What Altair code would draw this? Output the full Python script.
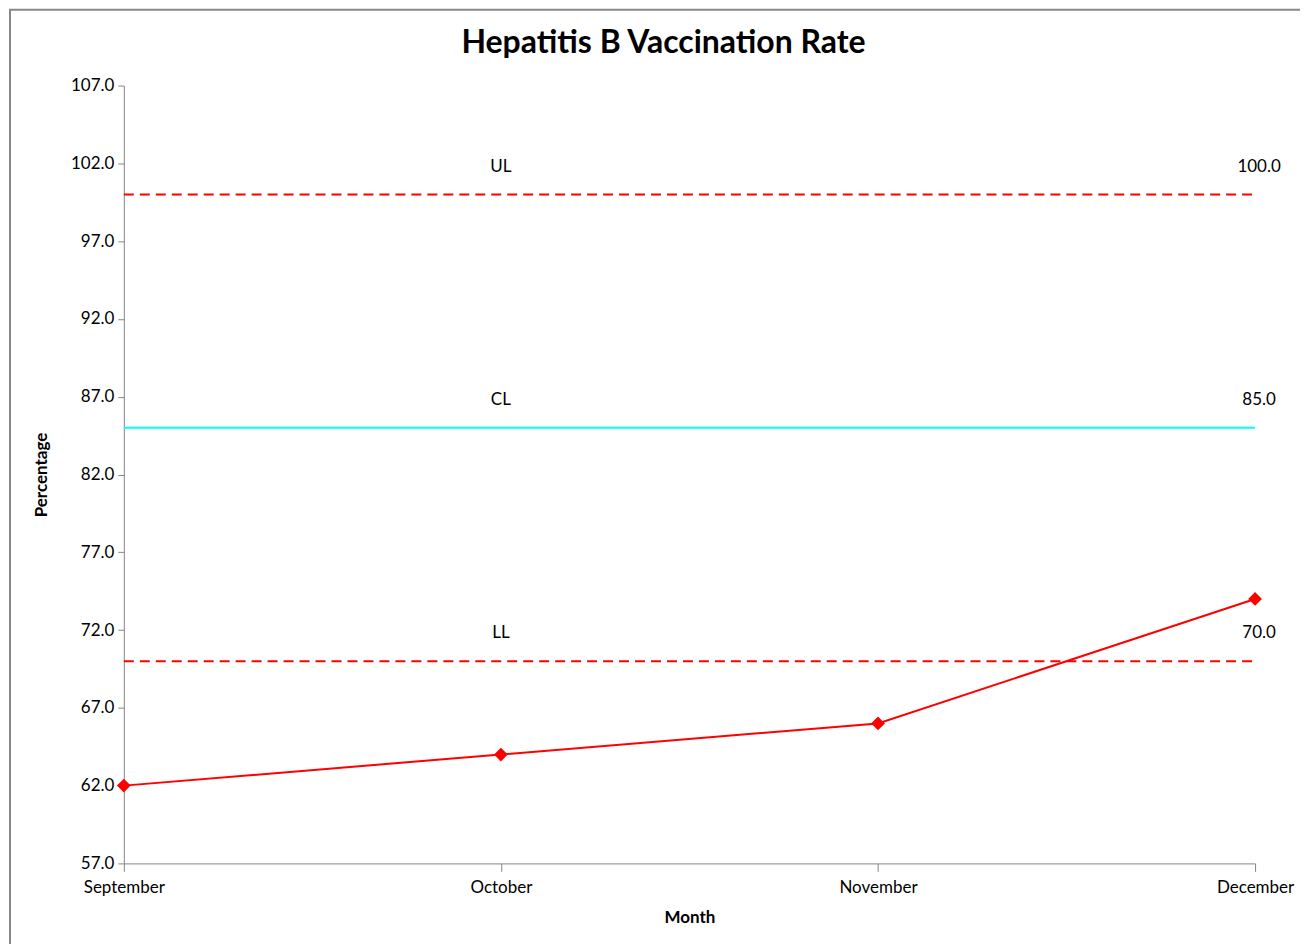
import altair as alt
import pandas as pd

months = ["September", "October", "November", "December"]
rate = [62.0, 64.0, 66.0, 74.0]
limit_names = ["UL", "CL", "LL"]
limit_values = [100.0, 85.0, 70.0]
limit_colors = ["#FF0000", "#00FFFF", "#FF0000"]
limit_dash = [[10, 6], [1, 0], [10, 6]]
y_ticks = [57, 62, 67, 72, 77, 82, 87, 92, 97, 102, 107]

FONT = "Lato"

df = pd.DataFrame({"Month": months, "Rate": rate})

lim_rows = []
for n, v in zip(limit_names, limit_values):
    for m in months:
        lim_rows.append({"Month": m, "Limit": n, "Value": v})
lim_df = pd.DataFrame(lim_rows)
lab_df = pd.DataFrame({"Limit": limit_names, "Value": limit_values,
                       "LabelMonth": ["October"] * 3, "EndMonth": ["December"] * 3})

xs = alt.Scale(domain=months, type="point", padding=0)
ys = alt.Scale(domain=[57, 107], nice=False, zero=False)

x_enc = alt.X("Month:N", scale=xs, sort=months,
              axis=alt.Axis(title="Month", labelAngle=0, labelAlign="center", labelBaseline="top",
                            labelFontSize=17, labelFont=FONT,
                            titleFont=FONT, titleFontSize=17, titleFontWeight="bold",
                            titlePadding=14, domainColor="#868686", tickColor="#868686",
                            tickSize=8, labelPadding=8, labelColor="#000", titleColor="#000",
                            grid=False))
y_enc = alt.Y("Rate:Q", scale=ys,
              axis=alt.Axis(title="Percentage", values=y_ticks, format=".1f", labelFontSize=17,
                            labelFont=FONT, titleFont=FONT, titleFontSize=17,
                            titleFontWeight="bold", titlePadding=20, domainColor="#868686",
                            tickColor="#868686", tickSize=6, labelPadding=4,
                            labelColor="#000", titleColor="#000", grid=False))

frame = alt.Chart(pd.DataFrame({"a": [0]})).mark_rect(
    fill=None, stroke="#888888", strokeWidth=2
).encode(x=alt.value(-114), x2=alt.value(1300), y=alt.value(-76), y2=alt.value(1000))

limits = alt.Chart(lim_df).mark_line(strokeWidth=2).encode(
    x=alt.X("Month:N", scale=xs, sort=months),
    y=alt.Y("Value:Q", scale=ys),
    detail="Limit:N",
    color=alt.Color("Limit:N", scale=alt.Scale(domain=limit_names, range=limit_colors), legend=None),
    strokeDash=alt.StrokeDash("Limit:N", scale=alt.Scale(domain=limit_names, range=limit_dash), legend=None),
)

names = alt.Chart(lab_df).mark_text(fontSize=17, font=FONT, dy=-28, color="#000").encode(
    x=alt.X("LabelMonth:N", scale=xs), y=alt.Y("Value:Q", scale=ys), text="Limit:N")

vals = alt.Chart(lab_df).mark_text(fontSize=17, font=FONT, dy=-28, dx=4, color="#000").encode(
    x=alt.X("EndMonth:N", scale=xs), y=alt.Y("Value:Q", scale=ys),
    text=alt.Text("Value:Q", format=".1f"))

line = alt.Chart(df).mark_line(color="#FF0000", strokeWidth=2).encode(x=x_enc, y=y_enc)
pts = alt.Chart(df).mark_point(shape="diamond", filled=True, color="#FF0000", size=190, opacity=1).encode(
    x=alt.X("Month:N", scale=xs, sort=months), y=alt.Y("Rate:Q", scale=ys))

chart = alt.layer(line, pts, limits, names, vals, frame).properties(
    width=1133, height=779,
    title=alt.TitleParams("Hepatitis B Vaccination Rate", font=FONT, fontSize=32,
                          fontWeight="bold", color="#000", anchor="middle", offset=0,
                          dy=51, dx=-26, frame="group"),
    autosize=alt.AutoSizeParams(type="none"),
    padding={"left": 116, "top": 77, "right": 45, "bottom": 80},
).configure_view(stroke=None)

chart.save("out.html", embed_options={"renderer": "svg", "actions": False})
